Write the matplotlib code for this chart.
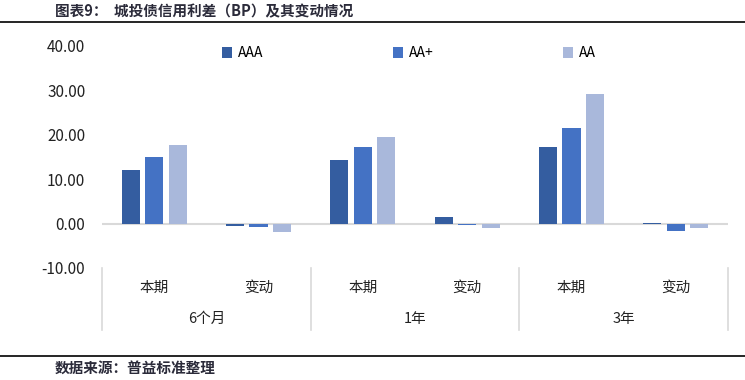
import numpy as np
import matplotlib
matplotlib.use("Agg")
import matplotlib.pyplot as plt
from matplotlib.lines import Line2D

plt.rcParams['font.family'] = ['Noto Sans CJK SC', 'DejaVu Sans']

groups = ['6个月', '1年', '3年']
subcats = ['本期', '变动']
series = ['AAA', 'AA+', 'AA']
colors = ['#345DA0', '#4472C4', '#A9B8DB']

# values per series, order: 6个月本期, 6个月变动, 1年本期, 1年变动, 3年本期, 3年变动
aaa = [12.1, -0.5, 14.4, 1.4, 17.3, 0.2]
aa_plus = [15.1, -0.8, 17.3, -0.3, 21.6, -1.6]
aa = [17.6, -2.0, 19.4, -1.1, 29.1, -1.1]

fig = plt.figure(figsize=(7.45, 3.8), dpi=100)
ax = fig.add_axes([102/745, 1 - 268/380, 626/745, 222/380])

x = np.arange(6)
w = 0.175
for i, (vals, c, name) in enumerate(zip([aaa, aa_plus, aa], colors, series)):
    ax.bar(x + (i - 1) * 0.225, vals, w, color=c, label=name, zorder=2)

ax.set_xlim(-0.5, 5.5)
ax.set_ylim(-10, 40)
ax.set_yticks(np.arange(-10, 41, 10))
ax.set_yticklabels(['%.2f' % v for v in np.arange(-10, 41, 10)], fontsize=11, color='#222222')
ax.tick_params(axis='y', length=0, pad=12)
ax.set_xticks([])
for s in ax.spines.values():
    s.set_visible(False)
ax.axhline(0, color='#D9D9D9', lw=1.5, zorder=1)

# category labels under the plot
for i in range(6):
    ax.text(i, -0.09, subcats[i % 2], transform=ax.get_xaxis_transform(),
            ha='center', va='center', fontsize=10.5, color='#222222')
for g in range(3):
    ax.text(2 * g + 0.5, -0.23, groups[g], transform=ax.get_xaxis_transform(),
            ha='center', va='center', fontsize=10.5, color='#222222')
for b in [-0.5, 1.5, 3.5, 5.5]:
    ax.plot([b, b], [0, -0.28], transform=ax.get_xaxis_transform(),
            color='#D9D9D9', lw=1.2, clip_on=False)

ax.legend(loc='upper center', bbox_to_anchor=(0.49, 1.055), ncol=3, frameon=False,
          fontsize=10, handlelength=0.75, handleheight=0.75, columnspacing=9.3,
          handletextpad=0.4)

# title and source
fig.add_artist(Line2D([0, 1], [1 - 22/380, 1 - 22/380], color='black', lw=1.2))
fig.text(55/745, 1 - 11/380, '图表9：  城投债信用利差（BP）及其变动情况', fontsize=10.5,
         fontweight='bold', color='#2B2B3A', va='center')
fig.add_artist(Line2D([0, 1], [1 - 356/380, 1 - 356/380], color='black', lw=1.2))
fig.text(55/745, 1 - 368/380, '数据来源：普益标准整理', fontsize=10.5,
         fontweight='bold', color='#2B2B3A', va='center')

fig.savefig('out.png', dpi=100)
